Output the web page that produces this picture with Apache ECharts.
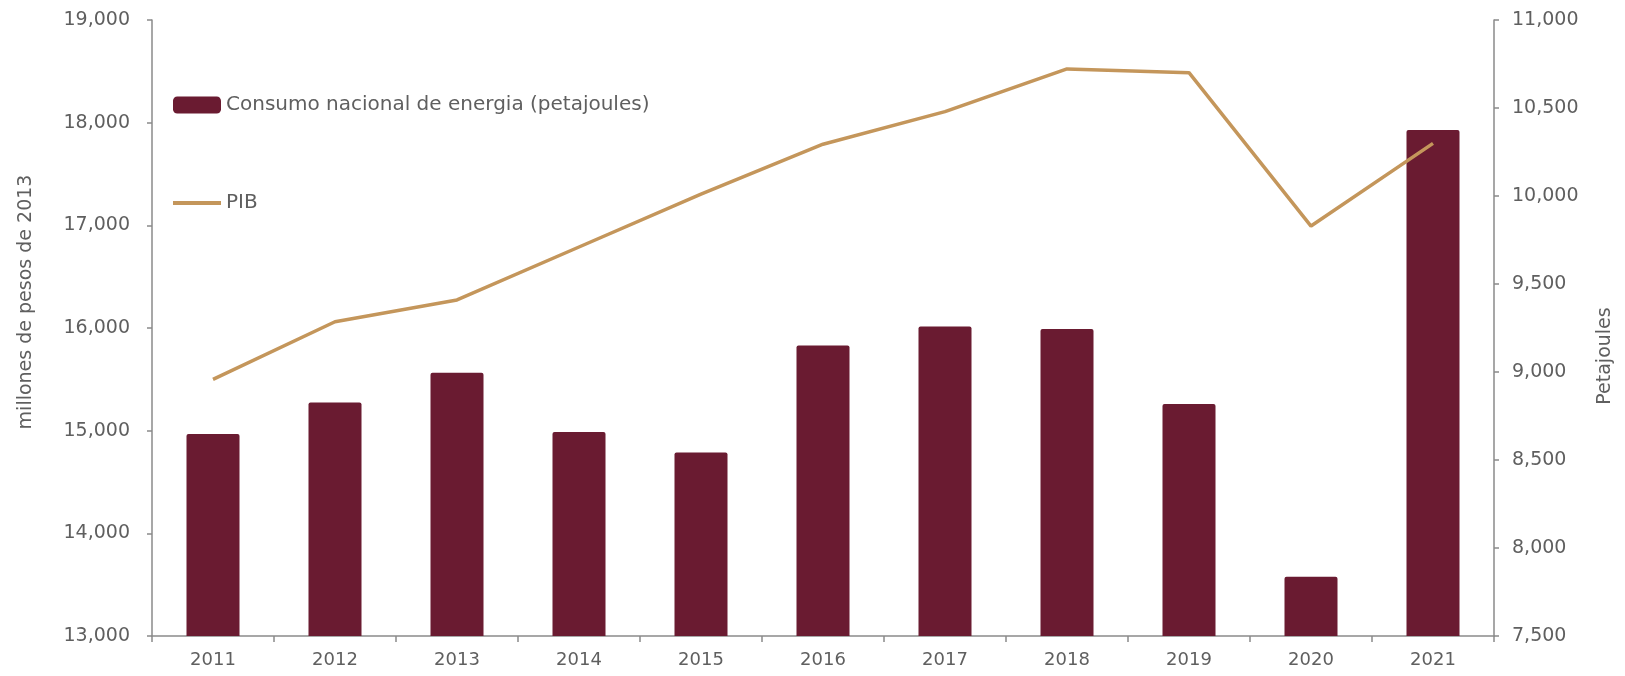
<!DOCTYPE html>
<html>
<head>
<meta charset="utf-8">
<title>Consumo nacional de energía y PIB</title>
<script src="https://cdn.jsdelivr.net/npm/echarts@6/dist/echarts.min.js"></script>
<style>
  html, body { margin: 0; padding: 0; background: #ffffff; }
  #chart { width: 1625px; height: 676px; }
</style>
</head>
<body>
<div id="chart"></div>
<script>
// Years on the category axis
const years = ['2011', '2012', '2013', '2014', '2015', '2016', '2017', '2018', '2019', '2020', '2021'];

// National energy consumption, petajoules (right axis)
const consumoEnergia = [8648, 8826, 8996, 8659, 8542, 9150, 9258, 9244, 8818, 7837, 10375];

// GDP, millones de pesos de 2013 (left axis)
const pib = [15500, 16061, 16273, 16789, 17305, 17790, 18107, 18523, 18487, 16993, 17798];

// Axis ranges
const pibAxis = { min: 13000, max: 19000, step: 1000 };
const energiaAxis = { min: 7500, max: 11000, step: 500 };

const serieNames = ['Consumo nacional de energia (petajoules)', 'PIB'];

const FONT = 'DejaVu Sans';
const TEXT = '#5f5f5f';
const AXIS = '#8a8a8a';
const BAR = '#6a1b31';
const LINE = '#c4965b';

const fmt = v => v.toLocaleString('en-US');

const chart = echarts.init(document.getElementById('chart'), null, { renderer: 'canvas' });

chart.setOption({
  animation: false,
  backgroundColor: '#ffffff',
  textStyle: { fontFamily: FONT, color: TEXT },
  grid: { left: 152, right: 131, top: 20, bottom: 40, containLabel: false },
  legend: {
    orient: 'vertical',
    left: 168,
    top: 90,
    itemGap: 78,
    itemWidth: 48,
    itemHeight: 17,
    textStyle: { fontFamily: FONT, fontSize: 20, color: TEXT },
    data: [
      { name: serieNames[0], icon: 'roundRect' },
      // plain thick stroke for the line series
      { name: serieNames[1], icon: 'path://M0,0H48V4H0Z' }
    ]
  },
  xAxis: {
    type: 'category',
    data: years,
    boundaryGap: true,
    axisLine: { lineStyle: { color: AXIS, width: 1.5 } },
    axisTick: { show: true, length: 6, lineStyle: { color: AXIS, width: 1.5 } },
    axisLabel: { fontFamily: FONT, fontSize: 18, color: TEXT, margin: 15 },
    splitLine: { show: false }
  },
  yAxis: [
    {
      type: 'value',
      position: 'left',
      min: pibAxis.min,
      max: pibAxis.max,
      interval: pibAxis.step,
      name: 'millones de pesos de 2013',
      nameLocation: 'middle',
      nameGap: 116,
      nameTextStyle: { fontFamily: FONT, fontSize: 19, color: TEXT, padding: [0, 0, 0, 52] },
      axisLine: { show: true, lineStyle: { color: AXIS, width: 1.5 } },
      axisTick: { show: true, length: 5, lineStyle: { color: AXIS, width: 1.5 } },
      axisLabel: { fontFamily: FONT, fontSize: 19, color: TEXT, margin: 22, formatter: fmt },
      splitLine: { show: false }
    },
    {
      type: 'value',
      position: 'right',
      min: energiaAxis.min,
      max: energiaAxis.max,
      interval: energiaAxis.step,
      name: 'Petajoules',
      nameLocation: 'middle',
      nameGap: 102,
      nameTextStyle: { fontFamily: FONT, fontSize: 19, color: TEXT, padding: [0, 56, 0, 0] },
      axisLine: { show: true, lineStyle: { color: AXIS, width: 1.5 } },
      axisTick: { show: true, length: 5, lineStyle: { color: AXIS, width: 1.5 } },
      axisLabel: { fontFamily: FONT, fontSize: 19, color: TEXT, margin: 18, formatter: fmt },
      splitLine: { show: false }
    }
  ],
  series: [
    {
      name: serieNames[0],
      type: 'bar',
      yAxisIndex: 1,
      data: consumoEnergia,
      barWidth: 53,
      itemStyle: { color: BAR, borderRadius: [2, 2, 0, 0] },
      z: 2
    },
    {
      name: serieNames[1],
      type: 'line',
      yAxisIndex: 0,
      data: pib,
      symbol: 'none',
      lineStyle: { color: LINE, width: 3.5 },
      itemStyle: { color: LINE },
      z: 3
    }
  ]
});
</script>
</body>
</html>
